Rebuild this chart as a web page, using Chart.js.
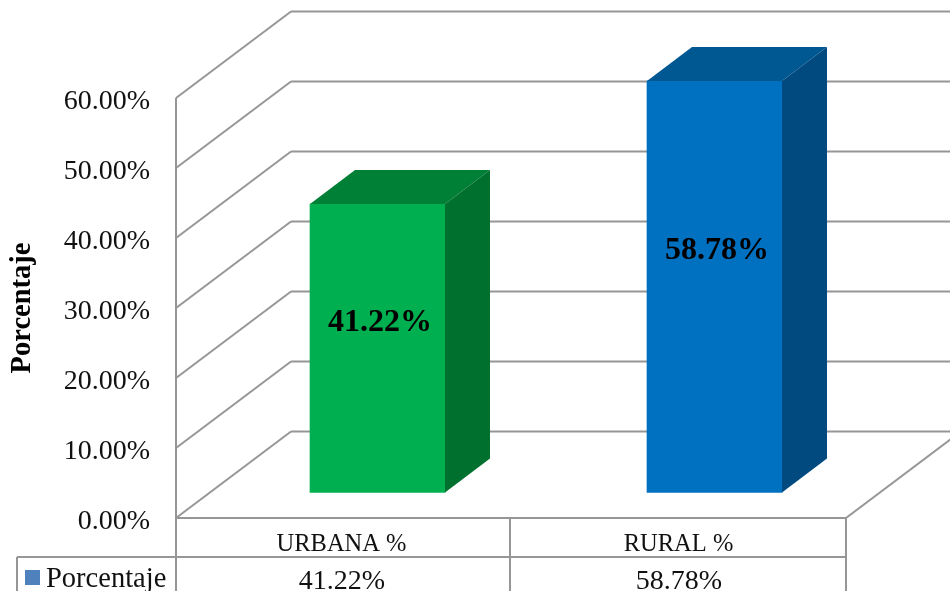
<!DOCTYPE html>
<html>
<head>
<meta charset="utf-8">
<title>Porcentaje</title>
<script src="https://cdn.jsdelivr.net/npm/chart.js@4"></script>
<style>
  html, body { margin: 0; padding: 0; background: #fff; overflow: hidden; }
  #wrap { width: 950px; height: 591px; }
</style>
</head>
<body>
<div id="wrap"><canvas id="grafico" width="950" height="591"></canvas></div>
<script>
// Datos del grafico
const categorias = ['URBANA %', 'RURAL %'];
const porcentajes = [41.22, 58.78];
const nombreSerie = 'Porcentaje';
const tituloEjeY = 'Porcentaje';

// Colores por barra: frente, tapa y lateral
const coloresFrente = ['#00B050', '#0070C0'];
const coloresTapa = ['#008037', '#005893'];
const coloresLado = ['#00702F', '#004A7F'];

const FUENTE = '"Liberation Serif", serif';
const GRIS = '#969696';

// Profundidad de la caja 3D y de las barras (px)
const FONDO_X = 115, FONDO_Y = 86.5;
const BARRA_DX = 45, BARRA_DY = 34;
const DESPLAZA_X = 33, DESPLAZA_Y = 25.5;

// Tabla de datos (px)
const TABLA_IZQ = 17, TABLA_MEDIO = 510, TABLA_DER = 846, TABLA_FILA = 557;

function formato(v) { return v.toFixed(2) + '%'; }

function linea(ctx, x1, y1, x2, y2) {
    ctx.beginPath();
    ctx.moveTo(x1, y1);
    ctx.lineTo(x2, y2);
    ctx.stroke();
}

function poligono(ctx, puntos, color) {
    ctx.fillStyle = color;
    ctx.beginPath();
    puntos.forEach(function(p, i) { i ? ctx.lineTo(p[0], p[1]) : ctx.moveTo(p[0], p[1]); });
    ctx.closePath();
    ctx.fill();
}

// Paredes, piso y tabla de datos
const cajaPlugin = {
    id: 'caja3d',
    beforeDatasetsDraw(chart) {
        const ctx = chart.ctx, y = chart.scales.y, x = chart.scales.x, area = chart.chartArea;
        ctx.save();
        ctx.strokeStyle = GRIS;
        ctx.lineWidth = 2;
        y.ticks.forEach(function(t) {
            const py = y.getPixelForValue(t.value);
            linea(ctx, area.left, py, area.left + FONDO_X, py - FONDO_Y);
            linea(ctx, area.left + FONDO_X, py - FONDO_Y, chart.width, py - FONDO_Y);
        });
        // piso
        linea(ctx, TABLA_DER, area.bottom, TABLA_DER + FONDO_X, area.bottom - FONDO_Y);
        // tabla
        linea(ctx, area.left, area.top, area.left, chart.height);
        linea(ctx, area.left, area.bottom, TABLA_DER, area.bottom);
        linea(ctx, TABLA_IZQ, TABLA_FILA, TABLA_DER, TABLA_FILA);
        linea(ctx, TABLA_IZQ, TABLA_FILA, TABLA_IZQ, chart.height);
        linea(ctx, TABLA_MEDIO, area.bottom, TABLA_MEDIO, chart.height);
        linea(ctx, TABLA_DER, area.bottom, TABLA_DER, chart.height);
        // leyenda dentro de la tabla
        ctx.fillStyle = '#4F81BD';
        ctx.fillRect(25, 570, 15, 15);
        ctx.fillStyle = '#111';
        ctx.font = '28.5px ' + FUENTE;
        ctx.textAlign = 'left';
        ctx.textBaseline = 'alphabetic';
        ctx.fillText(nombreSerie, 46, 587);
        // valores en la segunda fila
        ctx.font = '28px ' + FUENTE;
        ctx.textAlign = 'center';
        porcentajes.forEach(function(v, i) {
            ctx.fillText(formato(v), x.getPixelForTick(i) - 2.5, 589);
        });
        ctx.restore();
        // las barras van delante del eje, en el plano medio de la caja
        ctx.save();
        ctx.translate(DESPLAZA_X, -DESPLAZA_Y);
    },
    afterDatasetsDraw(chart) {
        const ctx = chart.ctx;
        ctx.restore();
        const meta = chart.getDatasetMeta(0);
        meta.data.forEach(function(bar, i) {
            const izq = bar.x - bar.width / 2 + DESPLAZA_X;
            const der = bar.x + bar.width / 2 + DESPLAZA_X;
            const arriba = bar.y - DESPLAZA_Y;
            const abajo = bar.base - DESPLAZA_Y;
            poligono(ctx, [[izq, arriba], [izq + BARRA_DX, arriba - BARRA_DY], [der + BARRA_DX, arriba - BARRA_DY], [der, arriba]], coloresTapa[i]);
            poligono(ctx, [[der, arriba], [der + BARRA_DX, arriba - BARRA_DY], [der + BARRA_DX, abajo - BARRA_DY], [der, abajo]], coloresLado[i]);
            // etiqueta de valor
            ctx.save();
            ctx.fillStyle = '#000';
            ctx.font = 'bold 32px ' + FUENTE;
            ctx.textAlign = 'center';
            ctx.textBaseline = 'middle';
            ctx.fillText(formato(porcentajes[i]), (izq + der) / 2 + 2.5, arriba + (abajo - arriba) * 0.412);
            ctx.restore();
        });
    }
};

new Chart(document.getElementById('grafico').getContext('2d'), {
    type: 'bar',
    data: {
        labels: categorias,
        datasets: [{
            label: nombreSerie,
            data: porcentajes,
            backgroundColor: coloresFrente,
            borderWidth: 0,
            barThickness: 135,
            clip: false
        }]
    },
    options: {
        responsive: false,
        animation: false,
        layout: { padding: { top: 98, right: 100, bottom: 0, left: 0 } },
        plugins: { legend: { display: false }, tooltip: { enabled: false } },
        scales: {
            x: {
                afterFit: function(s) { s.height = 73; },
                grid: { display: false },
                border: { display: false },
                ticks: {
                    color: '#111',
                    maxRotation: 0,
                    padding: 4,
                    labelOffset: -3,
                    font: { family: FUENTE, size: 24.5, lineHeight: 1.2 }
                }
            },
            y: {
                min: 0,
                max: 60,
                afterFit: function(s) { s.width = 176; },
                grid: { display: false },
                border: { display: false },
                ticks: {
                    stepSize: 10,
                    color: '#111',
                    padding: 18,
                    labelOffset: 4,
                    font: { family: FUENTE, size: 28 },
                    callback: function(v) { return formato(v); }
                },
                title: {
                    display: true,
                    text: tituloEjeY,
                    color: '#000',
                    padding: { top: 6, bottom: 0 },
                    font: { family: FUENTE, size: 28.5, weight: 'bold' }
                }
            }
        }
    },
    plugins: [cajaPlugin]
});
</script>
</body>
</html>
